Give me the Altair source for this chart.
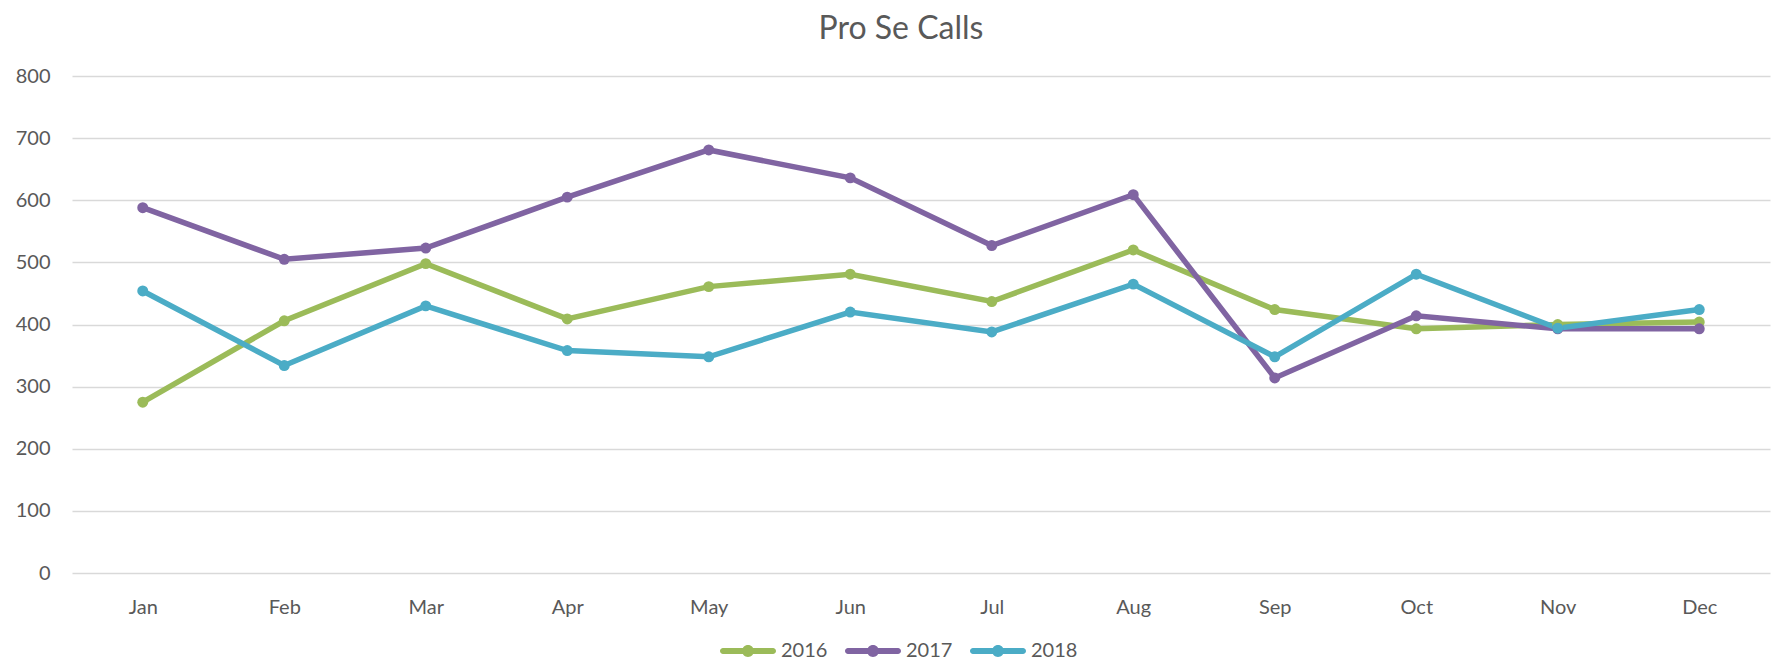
import altair as alt
import pandas as pd

months = ["Jan", "Feb", "Mar", "Apr", "May", "Jun", "Jul", "Aug", "Sep", "Oct", "Nov", "Dec"]
years = ["2016", "2017", "2018"]
calls_2016 = [275, 406, 498, 409, 461, 481, 437, 520, 424, 393, 400, 404]
calls_2017 = [588, 505, 523, 605, 681, 636, 527, 609, 314, 414, 393, 393]
calls_2018 = [454, 334, 430, 358, 348, 420, 388, 465, 348, 481, 394, 424]
colors = ["#9BBB59", "#8064A2", "#4BACC6"]

rows = []
for yr, vals in zip(years, [calls_2016, calls_2017, calls_2018]):
    for m, v in zip(months, vals):
        rows.append({"Month": m, "Year": yr, "Calls": v})
df = pd.DataFrame(rows)

# legend glyph: rounded line with a dot in the middle (unit = 28 px)
legend_path = ("M-0.893,-0.107 L0.893,-0.107 A0.107,0.107 0 0,1 0.893,0.107 "
               "L-0.893,0.107 A0.107,0.107 0 0,1 -0.893,-0.107 Z "
               "M0.214,0 A0.214,0.214 0 1,1 -0.214,0 A0.214,0.214 0 1,1 0.214,0 Z")

x = alt.X("Month:N", sort=months, title=None,
          axis=alt.Axis(labelAngle=0, ticks=False, domain=False, grid=False,
                        labelPadding=24))
y = alt.Y("Calls:Q", title=None, scale=alt.Scale(domain=[0, 800]),
          axis=alt.Axis(values=[0, 100, 200, 300, 400, 500, 600, 700, 800],
                        ticks=False, domain=False, grid=True, labelPadding=22))
color = alt.Color("Year:N", scale=alt.Scale(domain=years, range=colors),
                  legend=alt.Legend(title=None, orient="none", direction="horizontal",
                                    legendX=648, legendY=547,
                                    symbolType=legend_path, symbolSize=3136,
                                    symbolStrokeWidth=0, columnPadding=17,
                                    labelOffset=5))

base = alt.Chart(df)
lines = base.mark_line(strokeWidth=5.5).encode(x=x, y=y, color=color)
points = base.mark_point(filled=True, size=120, opacity=1).encode(x=x, y=y, color=color)

chart = alt.layer(lines, points).properties(
    width=1698, height=497,
    title=alt.TitleParams("Pro Se Calls", fontSize=32, font="Lato", fontWeight="normal",
                          color="#595959", anchor="middle", dx=-20, offset=20),
    autosize=alt.AutoSizeParams(type="none"),
    padding={"left": 64, "top": 68, "right": 3, "bottom": 87},
).configure_axis(
    labelFont="Lato", labelFontSize=20, labelColor="#595959",
    gridColor="#D9D9D9", gridWidth=1.3,
).configure_legend(
    labelFont="Lato", labelFontSize=20, labelColor="#595959",
).configure_view(stroke=None)

chart.save("out.html", embed_options={"renderer": "svg", "actions": False})
